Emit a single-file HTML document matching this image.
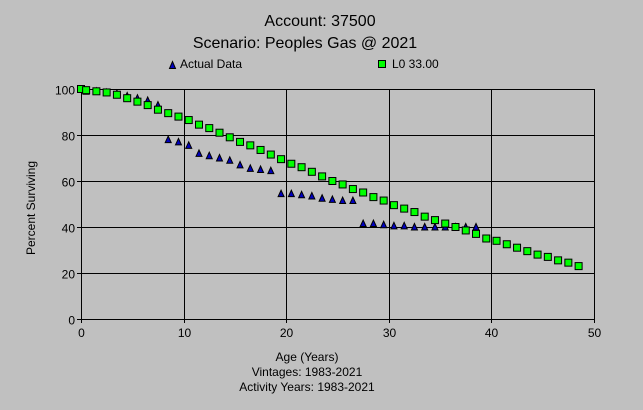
<!DOCTYPE html>
<html><head><meta charset="utf-8"><style>
body{margin:0;background:#c0c0c0;}
svg{display:block;font-family:"Liberation Sans",sans-serif;}
</style></head><body>
<svg id="chart" width="643" height="410" viewBox="0 0 643 410" xmlns="http://www.w3.org/2000/svg">
<rect width="643" height="410" fill="#c0c0c0"/>
<text x="320" y="26" font-size="16" text-anchor="middle" fill="#000">Account: 37500</text>
<text x="305" y="48" font-size="16" text-anchor="middle" fill="#000">Scenario: Peoples Gas @ 2021</text>
<g>
<polygon points="169.5,68.5 172.5,61.5 175.5,68.5" fill="#0000c0" stroke="#000" stroke-width="1"/>
<text x="180" y="68" font-size="12" fill="#000">Actual Data</text>
</g>
<g>
<rect x="378.5" y="60.5" width="7" height="7" fill="#00ff00" stroke="#000"/>
<text x="392" y="68" font-size="12" fill="#000">L0 33.00</text>
</g>
<g id="grid"></g>
<g id="marks"></g>
<text transform="translate(35,208) rotate(-90)" font-size="12" text-anchor="middle" fill="#000">Percent Surviving</text>
<text x="307" y="361" font-size="12" text-anchor="middle" fill="#000">Age (Years)</text>
<text x="307" y="376" font-size="12" text-anchor="middle" fill="#000">Vintages: 1983-2021</text>
<text x="307" y="391" font-size="12" text-anchor="middle" fill="#000">Activity Years: 1983-2021</text>
</svg>
<script>
const xTicks=[0,10,20,30,40,50];
const yTicks=[0,20,40,60,80,100];
const actualAges=[0.5,1.5,2.5,3.5,4.5,5.5,6.5,7.5,8.5,9.5,10.5,11.5,12.5,13.5,14.5,15.5,16.5,17.5,18.5,19.5,20.5,21.5,22.5,23.5,24.5,25.5,26.5,27.5,28.5,29.5,30.5,31.5,32.5,33.5,34.5,35.5,36.5,37.5,38.5];
const actualValues=[99,99,98.5,98,97,96,95,93,78,77,75.5,72,71,70,69,67,65.5,65,64.5,54.5,54.5,54,53.5,52.5,52,51.5,51.5,41.5,41.5,41,40.5,40.5,40,40,40,40,40,40,40];
const curveAges=[0,0.5,1.5,2.5,3.5,4.5,5.5,6.5,7.5,8.5,9.5,10.5,11.5,12.5,13.5,14.5,15.5,16.5,17.5,18.5,19.5,20.5,21.5,22.5,23.5,24.5,25.5,26.5,27.5,28.5,29.5,30.5,31.5,32.5,33.5,34.5,35.5,36.5,37.5,38.5,39.5,40.5,41.5,42.5,43.5,44.5,45.5,46.5,47.5,48.5];
const curveValues=[100,99.5,99,98.5,97.5,96,94.5,93,91,89.5,88,86.5,84.5,83,81,79,77,75.5,73.5,71.5,69.5,67.5,66,64,62,60,58.5,56.5,55,53,51.5,49.5,48,46.5,44.5,43,41.5,40,38.5,37,35,34,32.5,31,29.5,28,27,25.5,24.5,23];
const X0=81,X1=594,Y0=319,Y1=89;
const sx=v=>X0+(v-0)/(50-0)*(X1-X0);
const sy=v=>Y0-(v-0)/(100-0)*(Y0-Y1);
const NS="http://www.w3.org/2000/svg";
const grid=document.getElementById('grid'),marks=document.getElementById('marks');
function mk(tag,attrs,parent){const e=document.createElementNS(NS,tag);for(const k in attrs)e.setAttribute(k,attrs[k]);parent.appendChild(e);return e;}
yTicks.forEach(t=>{
  const y=Math.round(sy(t))+0.5;
  const l=mk('line',{x1:X0-4,x2:X1,y1:y,y2:y,stroke:'#000','stroke-width':1},grid);
  
  
  const tx=mk('text',{x:X0-6,y:y+5,'font-size':12,'text-anchor':'end',fill:'#000'},grid);
  tx.textContent=t;
  
  
});
xTicks.forEach(t=>{
  const x=Math.round(sx(t))+0.5;
  const l=mk('line',{x1:x,x2:x,y1:Y1,y2:Y0+4,stroke:'#000','stroke-width':1},grid);
  
  
  const tx=mk('text',{x:x,y:Y0+18,'font-size':12,'text-anchor':'middle',fill:'#000'},grid);
  tx.textContent=t;
  
  
});
actualAges.forEach((a,i)=>{
  const x=sx(a),y=sy(actualValues[i]);
  const p=mk('polygon',{points:`${x-3},${y+3} ${x},${y-3.5} ${x+3},${y+3}`,fill:'#0000c0',stroke:'#000','stroke-width':1},marks);
  
  
});
curveAges.forEach((a,i)=>{
  const x=sx(a),y=sy(curveValues[i]);
  const r=mk('rect',{x:x-3.5,y:y-3.5,width:7,height:7,fill:'#00ff00',stroke:'#000','stroke-width':1},marks);
  
  
});
</script>
</body></html>
